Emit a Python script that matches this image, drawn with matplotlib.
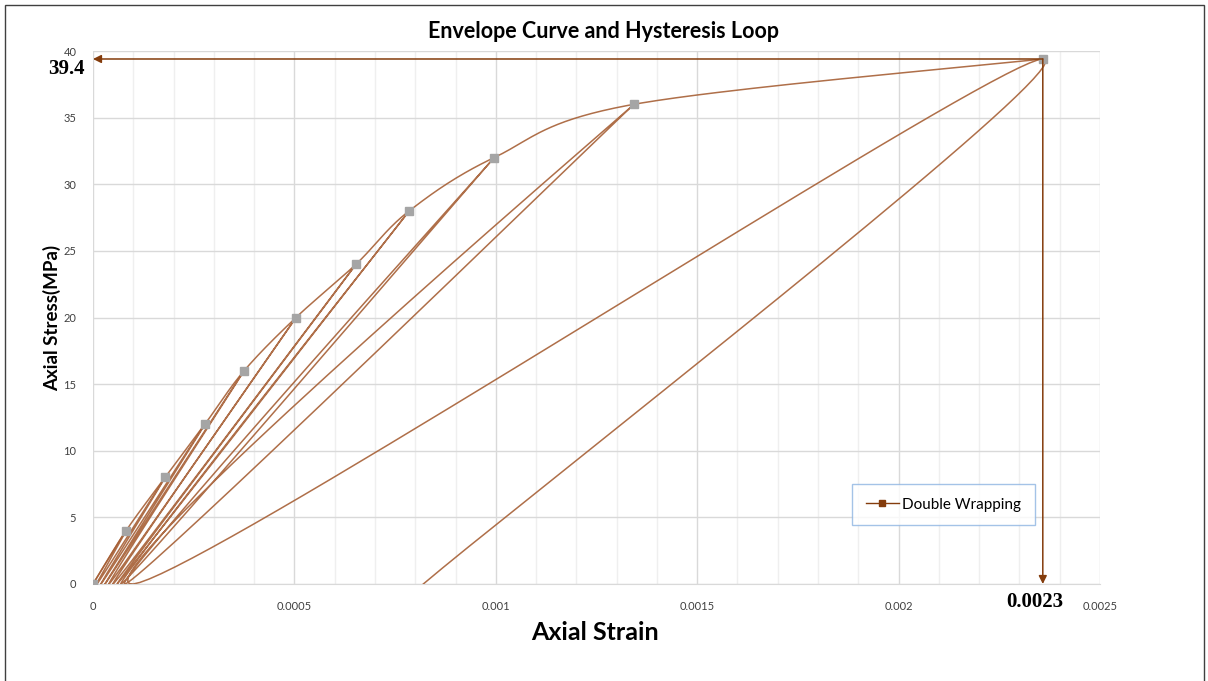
import matplotlib.pyplot as plt
import numpy as np
from matplotlib.patches import Rectangle
from matplotlib.ticker import MultipleLocator

# envelope points (peaks of each cycle)
env_strain = [0, 0.000082, 0.000179, 0.000278, 0.000375, 0.000504, 0.000653, 0.000785, 0.000996, 0.001343, 0.002358]
env_stress = [0, 4, 8, 12, 16, 20, 24, 28, 32, 36, 39.4]
# residual strain after each unloading
resid_strain = [0.00001, 0.00002, 0.00003, 0.00004, 0.00005, 0.00006, 0.00007, 0.00008, 0.0001, 0.00082]

peak_strain_lbl = "0.0023"
peak_stress_lbl = "39.4"

XMAX, YMAX = 0.0025, 40
W_PX, H_PX = 1007, 533


def smooth(xs, ys, n=40):
    # excel-like smoothed line (catmull-rom as bezier), done in screen units
    P = np.column_stack([np.asarray(xs) / XMAX * W_PX, np.asarray(ys) / YMAX * H_PX])
    out = []
    for i in range(len(P) - 1):
        p0 = P[i - 1] if i > 0 else P[i]
        p1, p2 = P[i], P[i + 1]
        p3 = P[i + 2] if i + 2 < len(P) else P[i + 1]
        c1 = p1 + (p2 - p0) / 6
        c2 = p2 - (p3 - p1) / 6
        t = np.linspace(0, 1, n)[:, None]
        seg = (1 - t) ** 3 * p1 + 3 * (1 - t) ** 2 * t * c1 + 3 * (1 - t) * t ** 2 * c2 + t ** 3 * p2
        out.append(seg if i == 0 else seg[1:])
    pts = np.vstack(out)
    return pts[:, 0] / W_PX * XMAX, pts[:, 1] / H_PX * YMAX


# hysteresis path: 0 -> peak1 -> resid1 -> peak2 -> resid2 ...
hx, hy = [env_strain[0]], [env_stress[0]]
for k in range(1, len(env_strain)):
    hx += [env_strain[k], resid_strain[k - 1]]
    hy += [env_stress[k], 0]

plt.rcParams['font.family'] = ['Lato', 'DejaVu Sans']

fig = plt.figure(figsize=(12.08, 6.81), dpi=100)
ax = fig.add_axes([93 / 1208, 1 - 584 / 681, 1007 / 1208, 533 / 681])

lc = '#A65F35'
sx, sy = smooth(hx, hy)
ax.plot(sx, sy, color=lc, lw=1.1, alpha=0.9, zorder=3)
ex, ey = smooth(env_strain, env_stress)
ax.plot(ex, ey, color=lc, lw=1.1, alpha=0.9, zorder=3)
ax.plot(env_strain, env_stress, ls='none', marker='s', ms=6, color='#A5A5A5', zorder=4)

# legend proxy
ax.plot([], [], color='#843C0C', lw=1, marker='s', ms=5, label='Double Wrapping')

# arrows to peak values
arrow_c = '#843C0C'
ax.annotate('', xy=(0, env_stress[-1]), xytext=(env_strain[-1], env_stress[-1]),
            arrowprops=dict(arrowstyle='-|>', color=arrow_c, lw=1.1, mutation_scale=12,
                            shrinkA=0, shrinkB=0), annotation_clip=False, zorder=5)
ax.annotate('', xy=(env_strain[-1], 0), xytext=(env_strain[-1], env_stress[-1]),
            arrowprops=dict(arrowstyle='-|>', color=arrow_c, lw=1.1, mutation_scale=12,
                            shrinkA=0, shrinkB=0), annotation_clip=False, zorder=5)

ax.set_xlim(0, XMAX)
ax.set_ylim(0, YMAX)
ax.xaxis.set_major_locator(MultipleLocator(0.0005))
ax.xaxis.set_minor_locator(MultipleLocator(0.0001))
ax.yaxis.set_major_locator(MultipleLocator(5))
ax.grid(which='major', color='#D9D9D9', lw=1)
ax.grid(which='minor', axis='x', color='#EFEFEF', lw=1)
ax.set_axisbelow(True)
for s in ['top', 'right', 'left']:
    ax.spines[s].set_visible(False)
ax.spines['bottom'].set_color('#D9D9D9')
ax.tick_params(which='both', length=0)
ax.tick_params(axis='y', labelsize=8, labelcolor='#404040', pad=12)

xt = [0, 0.0005, 0.001, 0.0015, 0.002, 0.0025]
xl = ['0', '0.0005', '0.001', '0.0015', '0.002', '0.0025']
ax.set_xticks(xt)
ax.set_xticklabels(xl)
ax.tick_params(axis='x', labelsize=8, labelcolor='#404040', pad=12)

ax.text(-0.00002, env_stress[-1] - 0.75, peak_stress_lbl, ha='right', va='center',
        family='Liberation Serif', fontweight='bold', fontsize=15, color='#000000')
ax.text(env_strain[-1] - 0.00002, -1.35, peak_strain_lbl, ha='center', va='center',
        family='Liberation Serif', fontweight='bold', fontsize=15, color='#000000')

fig.text(603 / 1208, 1 - 32 / 681, 'Envelope Curve and Hysteresis Loop', ha='center', va='center',
         fontsize=15.5, fontweight='bold', color='#000000')
fig.text(595 / 1208, 1 - 632 / 681, 'Axial Strain', ha='center', va='center',
         fontsize=18, fontweight='bold', color='#000000')
fig.text(52 / 1208, 1 - 318 / 681, 'Axial Stress(MPa)', ha='center', va='center', rotation=90,
         fontsize=13.5, fontweight='bold', color='#000000')

leg = ax.legend(loc='center', bbox_to_anchor=(0.8445, 0.149), fancybox=False, fontsize=11,
                edgecolor='#8DB4E2', borderpad=0.9, handlelength=2.2, handletextpad=0.2)
leg.get_frame().set_linewidth(1)

fig.patches.append(Rectangle((5 / 1208, -0.01), 1199 / 1208, 1 - 5 / 681 + 0.01, transform=fig.transFigure,
                             fill=False, edgecolor='#404040', lw=1))

fig.savefig('out.png', dpi=100)
